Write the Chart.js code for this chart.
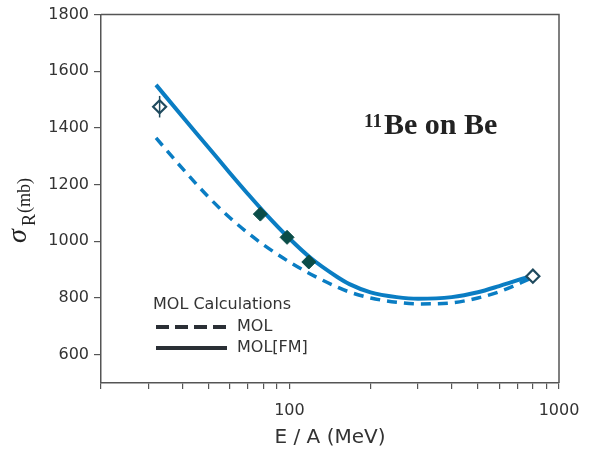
<!DOCTYPE html>
<html>
<head>
<meta charset="utf-8">
<script src="https://cdn.jsdelivr.net/npm/chart.js@4"></script>
<style>
  html, body { margin: 0; padding: 0; background: #fff; }
  #wrap { width: 589px; height: 453px; }
</style>
</head>
<body>
<div id="wrap"><canvas id="chart" width="589" height="453"></canvas></div>
<script>
// energies (MeV/A) and cross sections (mb)
const curveE = [32, 40, 50, 60, 70, 80, 100, 120, 150, 167, 200, 250, 300, 400, 500, 600, 800];
const molFM  = [1552, 1441, 1332, 1242, 1168, 1106, 1010, 941, 875, 849, 820, 803, 797, 803, 820, 842, 880];
const mol    = [1365, 1258, 1157, 1084, 1030, 988, 927, 884, 839, 821, 800, 785, 779, 783, 800, 822, 872];

const filledE = [78, 98, 118];
const filledSigma = [1096, 1014, 927];
const openE = [33, 800];
const openSigma = [1475, 877];
const openErr = [38, 0];

const xTicks = [20, 30, 40, 50, 60, 70, 80, 90, 100, 200, 300, 400, 500, 600, 700, 800, 900, 1000];
const xLabels = [100, 1000];
const yTicks = [600, 800, 1000, 1200, 1400, 1600, 1800];

const blue = '#0a7dc3';
const dark = '#333';

function pts(xs, ys) {
    return xs.map((x, i) => ({ x: x, y: ys[i] }));
}

// frame, error bars, legend box and labels
const extras = {
    id: 'extras',
    beforeDatasetsDraw(chart) {
        const ctx = chart.ctx;
        const a = chart.chartArea;
        ctx.save();
        ctx.strokeStyle = '#555';
        ctx.lineWidth = 1.5;
        ctx.beginPath();
        ctx.moveTo(a.left, a.top);
        ctx.lineTo(a.right, a.top);
        ctx.lineTo(a.right, a.bottom);
        ctx.stroke();
        ctx.restore();
    },
    afterDatasetsDraw(chart) {
        const ctx = chart.ctx;
        const xs = chart.scales.x, ys = chart.scales.y;
        ctx.save();

        // error bars on open points
        ctx.strokeStyle = '#1f4a5e';
        ctx.lineWidth = 1.5;
        openE.forEach((e, i) => {
            if (!openErr[i]) return;
            const px = xs.getPixelForValue(e);
            ctx.beginPath();
            ctx.moveTo(px, ys.getPixelForValue(openSigma[i] + openErr[i]));
            ctx.lineTo(px, ys.getPixelForValue(openSigma[i] - openErr[i]));
            ctx.stroke();
        });

        // legend
        ctx.fillStyle = dark;
        ctx.font = '16px "DejaVu Sans"';
        ctx.textBaseline = 'middle';
        ctx.fillText('MOL Calculations', 153, 305);
        ctx.strokeStyle = '#2a2f35';
        ctx.lineWidth = 4;
        ctx.setLineDash([13, 6]);
        ctx.beginPath();
        ctx.moveTo(156, 327);
        ctx.lineTo(226, 327);
        ctx.stroke();
        ctx.setLineDash([]);
        ctx.beginPath();
        ctx.moveTo(156, 348);
        ctx.lineTo(227, 348);
        ctx.stroke();
        ctx.fillText('MOL', 237, 327);
        ctx.fillText('MOL[FM]', 237, 348);

        // annotation
        ctx.fillStyle = '#222';
        ctx.textBaseline = 'alphabetic';
        ctx.font = 'bold 19px "Liberation Serif"';
        ctx.fillText('11', 364, 127);
        ctx.font = 'bold 30px "Liberation Serif"';
        ctx.fillText('Be on Be', 384, 134);

        // y axis title
        ctx.translate(26, 243);
        ctx.rotate(-Math.PI / 2);
        ctx.fillStyle = '#222';
        ctx.font = 'italic 28px "Liberation Serif"';
        ctx.fillText('\u03c3', 0, 0);
        ctx.font = '18px "Liberation Serif"';
        ctx.fillText('R', 17, 9);
        ctx.fillText('(mb)', 30, 4);
        ctx.restore();
    }
};

new Chart(document.getElementById('chart'), {
    type: 'scatter',
    data: {
        datasets: [
            {
                label: 'data',
                data: pts(filledE, filledSigma),
                pointStyle: 'rectRot',
                pointRadius: 7,
                backgroundColor: '#0b4d48',
                borderColor: '#0b4d48',
                borderWidth: 1
            },
            {
                label: 'data open',
                data: pts(openE, openSigma),
                pointStyle: 'rectRot',
                pointRadius: 6.5,
                backgroundColor: '#fff',
                borderColor: '#1f4a5e',
                borderWidth: 2.2
            },
            {
                label: 'MOL[FM]',
                type: 'line',
                data: pts(curveE, molFM),
                borderColor: blue,
                borderWidth: 4,
                pointRadius: 0,
                cubicInterpolationMode: 'monotone',
                fill: false
            },
            {
                label: 'MOL',
                type: 'line',
                data: pts(curveE, mol),
                borderColor: blue,
                borderWidth: 3.5,
                borderDash: [10, 7],
                pointRadius: 0,
                cubicInterpolationMode: 'monotone',
                fill: false
            }
        ]
    },
    options: {
        responsive: false,
        animation: false,
        layout: { padding: { left: 0, right: 30, top: 14, bottom: 0 } },
        plugins: { legend: { display: false }, tooltip: { enabled: false } },
        scales: {
            x: {
                type: 'logarithmic',
                min: 20,
                max: 1000,
                afterBuildTicks: (s) => { s.ticks = xTicks.map(v => ({ value: v })); },
                afterFit: (s) => { s.height = 70; s.paddingLeft = 0; s.paddingRight = 0; },
                ticks: {
                    autoSkip: false,
                    maxRotation: 0,
                    padding: 12,
                    color: dark,
                    font: { family: 'DejaVu Sans', size: 16 },
                    callback: (v) => xLabels.includes(v) ? String(v) : ''
                },
                grid: { drawOnChartArea: false, tickLength: 6, color: '#555', lineWidth: 1.2 },
                border: { color: '#555', width: 1.5 },
                title: {
                    display: true,
                    text: 'E / A (MeV)',
                    color: dark,
                    font: { family: 'DejaVu Sans', size: 20 },
                    padding: { top: 0, bottom: 3 }
                }
            },
            y: {
                min: 500,
                max: 1800,
                afterBuildTicks: (s) => { s.ticks = yTicks.map(v => ({ value: v })); },
                afterFit: (s) => { s.width = 101; },
                ticks: {
                    padding: 5,
                    color: dark,
                    font: { family: 'DejaVu Sans', size: 16 },
                    callback: (v) => String(v)
                },
                grid: { drawOnChartArea: false, tickLength: 7, color: '#555', lineWidth: 1.2 },
                border: { color: '#555', width: 1.5 }
            }
        }
    },
    plugins: [extras]
});
</script>
</body>
</html>
